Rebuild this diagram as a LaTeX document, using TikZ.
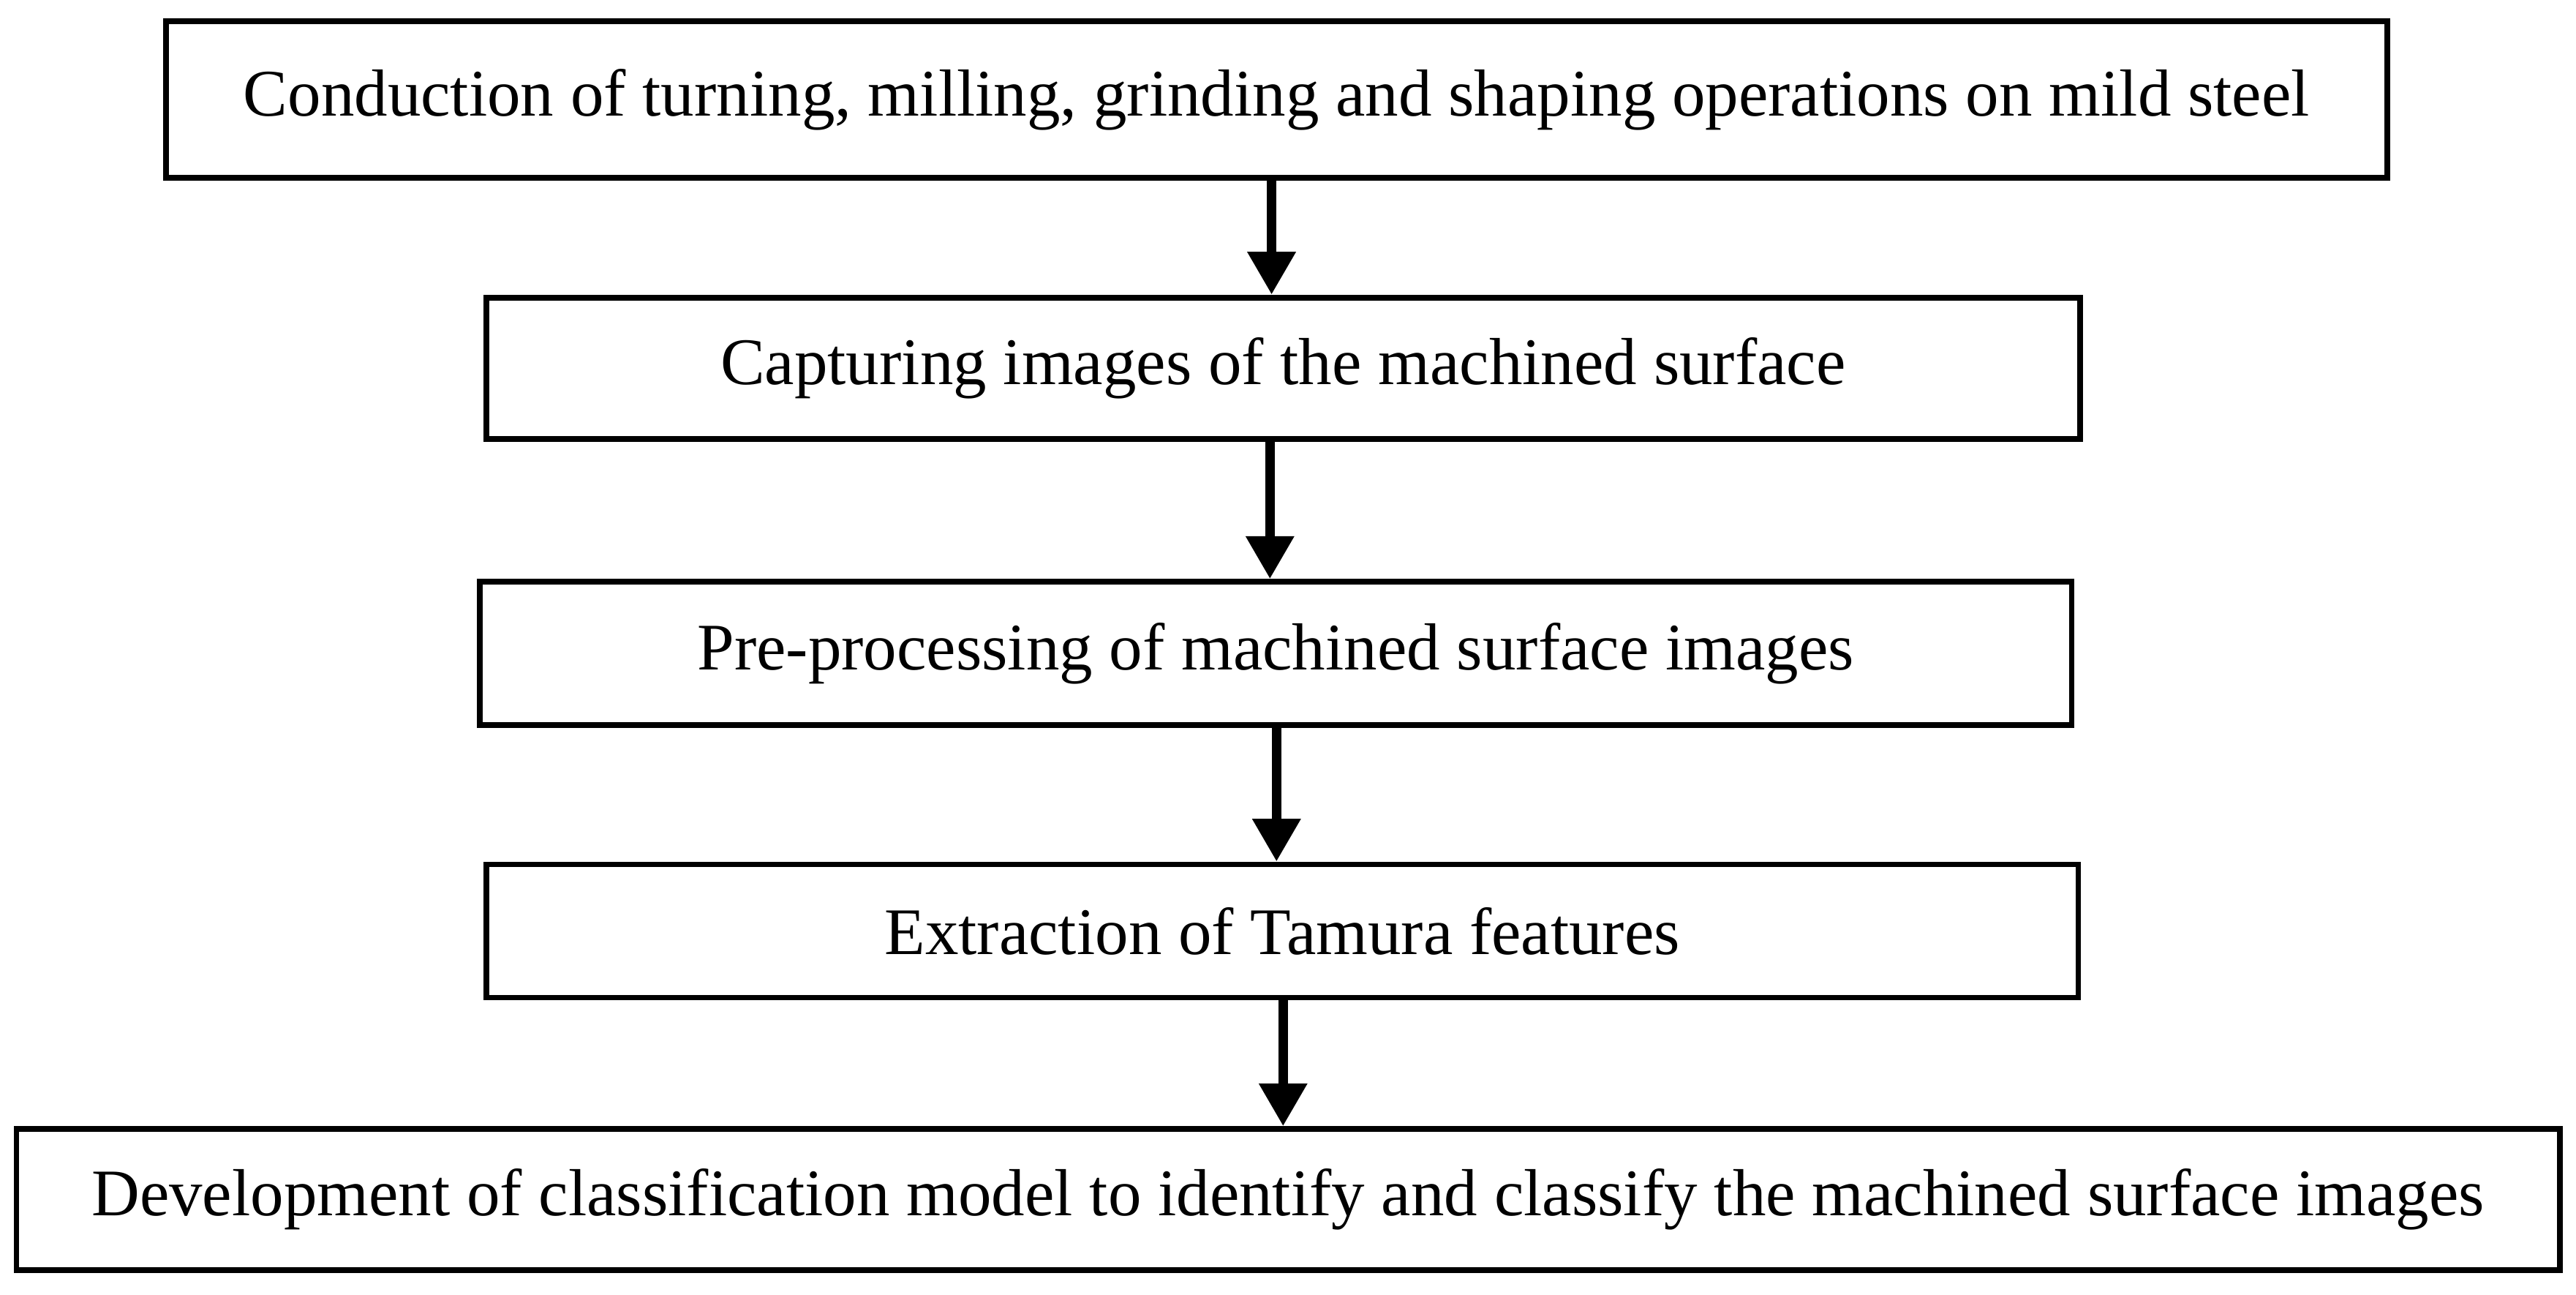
\documentclass[tikz,border=0pt]{standalone}
\usepackage{fontspec}
\setmainfont{Liberation Serif}
\usetikzlibrary{arrows.meta}
\begin{document}
\begin{tikzpicture}[x=1pt,y=-1pt,
 box/.style={draw,line width=3.5pt,inner sep=0pt,font=\fontsize{40.5}{46}\selectfont},
 arr/.style={line width=6pt,-{Triangle[length=26pt,width=28pt]}}]
\useasboundingbox (0,0) rectangle (1568,788);
\node[box,minimum width=1352pt,minimum height=95pt] (a) at (777,60.5) {Conduction of turning, milling, grinding and shaping operations on mild steel};
\node[box,minimum width=970pt,minimum height=86pt] (b) at (781,224) {Capturing images of the machined surface};
\node[box,minimum width=969pt,minimum height=87pt] (c) at (776.5,397.5) {Pre-processing of machined surface images};
\node[box,minimum width=969pt,minimum height=81pt] (d) at (780.5,566.5) {Extraction of Tamura features};
\node[box,minimum width=1548pt,minimum height=86pt] (e) at (784,730) {Development of classification model to identify and classify the machined surface images};
\draw[arr] (a.south -| 774,0) -- (b.north -| 774,0);
\draw[arr] (b.south -| 773,0) -- (c.north -| 773,0);
\draw[arr] (c.south -| 777,0) -- (d.north -| 777,0);
\draw[arr] (d.south -| 781,0) -- (e.north -| 781,0);
\end{tikzpicture}
\end{document}
